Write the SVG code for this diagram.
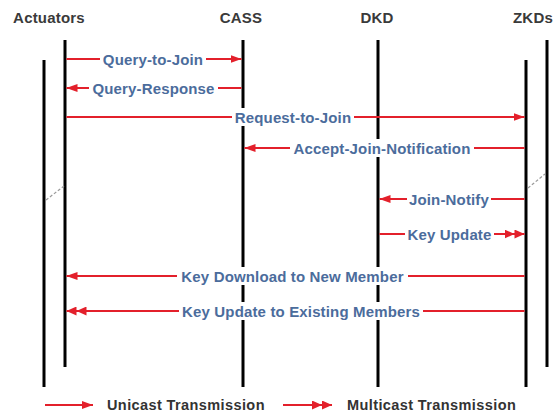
<svg xmlns="http://www.w3.org/2000/svg" width="558" height="415" viewBox="0 0 558 415">
<style>
.hdr{font-family:"Liberation Sans",Arial,sans-serif;font-weight:bold;font-size:15px;fill:#3a3a3a;text-anchor:middle;letter-spacing:0.2px}
.life{stroke:#000;stroke-width:3;fill:none}
.msg{stroke:#e3202b;stroke-width:1.8;fill:none}
.lbl{font-family:"Liberation Sans",Arial,sans-serif;font-weight:bold;font-size:15px;fill:#4b6c9c;text-anchor:middle;letter-spacing:0.15px}
.bg{fill:#fff}
.leg{font-family:"Liberation Sans",Arial,sans-serif;font-weight:bold;font-size:14.5px;fill:#333;letter-spacing:0.4px}
.dash{stroke:#9a9a9a;stroke-width:1.2;stroke-dasharray:3,2;fill:none}
</style>
<defs>
<marker id="uh" viewBox="0 0 11 8" refX="11" refY="4" markerWidth="11" markerHeight="8" markerUnits="userSpaceOnUse" orient="auto">
<path d="M0,0 L11,4 L0,8 Z" fill="#e3202b"/>
</marker>
<marker id="dh" viewBox="0 0 20 9" refX="20" refY="4.5" markerWidth="20" markerHeight="9" markerUnits="userSpaceOnUse" orient="auto">
<path d="M0,0 L10,4.5 L0,9 Z M10,0 L20,4.5 L10,9 Z" fill="#e3202b"/>
</marker>
</defs>
<rect width="558" height="415" fill="#fff"/>
<g id="actuators">
<text class="hdr" x="49" y="23">Actuators</text>
<line class="life" x1="44" y1="60" x2="44" y2="387"/>
<line class="life" x1="65" y1="40" x2="65" y2="367"/>
<line class="dash" x1="46" y1="200" x2="64" y2="186"/>
</g>
<g id="cass">
<text class="hdr" x="241" y="23">CASS</text>
<line class="life" x1="243" y1="40" x2="243" y2="387"/>
</g>
<g id="dkd">
<text class="hdr" x="377" y="23">DKD</text>
<line class="life" x1="378" y1="40" x2="378" y2="387"/>
</g>
<g id="zkds">
<text class="hdr" x="533" y="23">ZKDs</text>
<line class="life" x1="526" y1="60" x2="526" y2="387"/>
<line class="life" x1="547" y1="40" x2="547" y2="367"/>
<line class="dash" x1="528" y1="188" x2="545" y2="174"/>
</g>
<g id="connectors">
<line class="msg" x1="66.5" y1="59" x2="241.5" y2="59" marker-end="url(#uh)"/>
<rect class="bg" x="100" y="50" width="106" height="18"/>
<text class="lbl" x="153" y="64.5">Query-to-Join</text>

<line class="msg" x1="241.5" y1="88" x2="66.5" y2="88" marker-end="url(#uh)"/>
<rect class="bg" x="89" y="79" width="129" height="18"/>
<text class="lbl" x="153.5" y="93.5">Query-Response</text>

<line class="msg" x1="66.5" y1="117" x2="524.5" y2="117" marker-end="url(#uh)"/>
<rect class="bg" x="232" y="108" width="122" height="18"/>
<text class="lbl" x="293" y="122.5">Request-to-Join</text>

<line class="msg" x1="524.5" y1="148" x2="244.5" y2="148" marker-end="url(#uh)"/>
<rect class="bg" x="290" y="139" width="184" height="18"/>
<text class="lbl" x="382" y="153.5">Accept-Join-Notification</text>

<line class="msg" x1="524.5" y1="199" x2="379.5" y2="199" marker-end="url(#uh)"/>
<rect class="bg" x="407" y="190" width="84" height="18"/>
<text class="lbl" x="449" y="204.5">Join-Notify</text>

<line class="msg" x1="379.5" y1="234" x2="524.5" y2="234" marker-end="url(#dh)"/>
<rect class="bg" x="405" y="225" width="89" height="18"/>
<text class="lbl" x="449.5" y="239.5">Key Update</text>

<line class="msg" x1="524.5" y1="276" x2="66.5" y2="276" marker-end="url(#uh)"/>
<rect class="bg" x="177" y="267" width="231" height="18"/>
<text class="lbl" x="292.5" y="281.5">Key Download to New Member</text>

<line class="msg" x1="524.5" y1="311" x2="66.5" y2="311" marker-end="url(#dh)"/>
<rect class="bg" x="179" y="302" width="244" height="18"/>
<text class="lbl" x="301" y="316.5">Key Update to Existing Members</text>
</g>
<g id="legend">
<line class="msg" x1="45" y1="405" x2="93" y2="405" marker-end="url(#uh)"/>
<text class="leg" x="107" y="410">Unicast Transmission</text>
<line class="msg" x1="283" y1="405" x2="332" y2="405" marker-end="url(#dh)"/>
<text class="leg" x="347" y="410">Multicast Transmission</text>
</g>
</svg>
